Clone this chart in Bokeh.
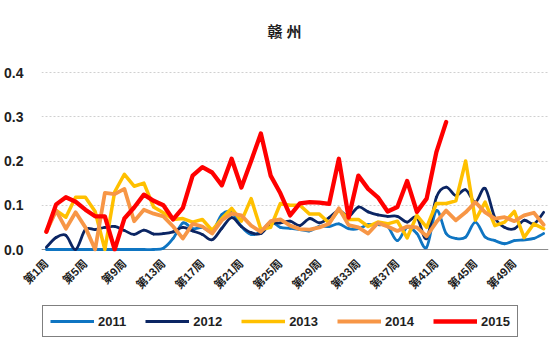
import numpy as np
from bokeh.plotting import figure
from bokeh.layouts import column
from bokeh.models import (FixedTicker, Legend, LegendItem, ColumnDataSource, Label,
                          Range1d, Span)
from bokeh.embed import file_html
from bokeh.resources import INLINE

# ---------------- data ----------------
weeks = list(range(1, 53))
tick_weeks = [1, 5, 9, 13, 17, 21, 25, 29, 33, 37, 41, 45, 49]
tick_labels = ["第%d周" % w for w in tick_weeks]
y_ticks = [0.0, 0.1, 0.2, 0.3, 0.4]
y_tick_labels = ["0.0", "0.1", "0.2", "0.3", "0.4"]

s2011 = [0, 0, 0, 0, 0, 0, 0, 0, 0, 0, 0, 0, 0.003, 0.025, 0.06, 0.047, 0.05, 0.04,
         0.079, 0.084, 0.052, 0.034, 0.04, 0.062, 0.05, 0.048, 0.045, 0.042, 0.052, 0.052,
         0.058, 0.047, 0.047, 0.056, 0.056, 0.052, 0.02, 0.05, 0.036, 0.005, 0.088, 0.036,
         0.025, 0.028, 0.062, 0.028, 0.02, 0.013, 0.02, 0.022, 0.025, 0.036]
s2012 = [0.005, 0.027, 0.032, 0.0, 0.045, 0.045, 0.05, 0.052, 0.043, 0.034, 0.044, 0.035,
         0.036, 0.04, 0.05, 0.042, 0.034, 0.022, 0.048, 0.072, 0.052, 0.038, 0.036, 0.058,
         0.06, 0.064, 0.054, 0.07, 0.06, 0.072, 0.088, 0.075, 0.096, 0.085, 0.078, 0.075,
         0.075, 0.062, 0.073, 0.025, 0.118, 0.141, 0.122, 0.135, 0.107, 0.138, 0.072, 0.05,
         0.047, 0.066, 0.058, 0.084]
s2013 = [0.043, 0.088, 0.073, 0.118, 0.118, 0.086, 0.0, 0.13, 0.17, 0.143, 0.15, 0.096,
         0.083, 0.068, 0.07, 0.062, 0.068, 0.043, 0.07, 0.093, 0.064, 0.115, 0.045, 0.05,
         0.104, 0.1, 0.1, 0.08, 0.08, 0.06, 0.09, 0.068, 0.068, 0.052, 0.062, 0.058, 0.064,
         0.026, 0.077, 0.05, 0.104, 0.104, 0.11, 0.2, 0.066, 0.107, 0.054, 0.062, 0.086, 0.027,
         0.058, 0.047]
s2014 = [0.04, 0.088, 0.047, 0.084, 0.05, 0.0, 0.128, 0.125, 0.137, 0.064, 0.09, 0.081,
         0.075, 0.052, 0.025, 0.058, 0.052, 0.036, 0.066, 0.081, 0.077, 0.054, 0.04, 0.064,
         0.068, 0.054, 0.046, 0.045, 0.05, 0.058, 0.093, 0.055, 0.05, 0.036, 0.06, 0.052,
         0.042, 0.052, 0.05, 0.03, 0.062, 0.088, 0.066, 0.084, 0.107, 0.084, 0.07, 0.073,
         0.064, 0.077, 0.083, 0.056]
s2015 = [0.04, 0.102, 0.118, 0.108, 0.09, 0.075, 0.075, 0.0, 0.07, 0.095, 0.124, 0.11,
         0.1, 0.068, 0.094, 0.167, 0.186, 0.174, 0.145, 0.205, 0.14, 0.2, 0.262, 0.167,
         0.127, 0.077, 0.104, 0.107, 0.106, 0.103, 0.205, 0.072, 0.167, 0.137, 0.118, 0.086,
         0.096, 0.155, 0.085, 0.115, 0.22, 0.288]

series_names = ["2011", "2012", "2013", "2014", "2015"]
title_text = "赣 州"
colors = ["#0F75C2", "#0B2563", "#FFC000", "#F79646", "#FF0000"]
widths = [2.8, 2.8, 3.5, 3.8, 4.3]
FONT = "Liberation Sans, Noto Sans CJK SC"
all_series = [s2011, s2012, s2013, s2014, s2015]

# frame: left 41, right 548, top 20, bottom 251 ; value 0 at y=249, 0.4 at y=72
K = (249 - 72) / 0.4
p = figure(width=549, height=300, output_backend="svg", toolbar_location=None,
           x_range=Range1d(0.5, 52.5),
           y_range=Range1d(-(251 - 249) / K, 0.4 + (72 - 20) / K),
           min_border_left=41, min_border_right=1, min_border_top=20,
           min_border_bottom=49)
p.outline_line_color = None
p.background_fill_color = "white"
p.border_fill_color = "white"

# axes
p.xaxis.ticker = FixedTicker(ticks=tick_weeks)
p.xaxis.major_label_overrides = {w: l for w, l in zip(tick_weeks, tick_labels)}
p.xaxis.major_label_orientation = np.pi / 4
p.xaxis.axis_line_color = None
p.xaxis.major_tick_line_color = None
p.xaxis.minor_tick_line_color = None
p.xaxis.major_label_standoff = 4
p.xaxis.major_label_text_font = FONT
p.xaxis.major_label_text_font_size = "11.5px"
p.xaxis.major_label_text_font_style = "bold"
p.xaxis.major_label_text_color = "#1F1F1F"

p.yaxis.ticker = FixedTicker(ticks=y_ticks)
p.yaxis.major_label_overrides = {t: l for t, l in zip(y_ticks, y_tick_labels)}
p.yaxis.axis_line_color = None
p.yaxis.major_tick_line_color = None
p.yaxis.minor_tick_line_color = None
p.yaxis.major_label_standoff = 12
p.yaxis.major_label_text_font = FONT
p.yaxis.major_label_text_font_size = "14px"
p.yaxis.major_label_text_font_style = "bold"
p.yaxis.major_label_text_color = "#1F1F1F"

p.xgrid.grid_line_color = None
p.ygrid.grid_line_color = "#D0D0D0"
p.ygrid.grid_line_dash = "2 2"
p.ygrid.grid_line_width = 1

p.add_layout(Span(location=0, dimension="width", line_color="#8C8C8C",
                  line_width=1.2, level="underlay"))


def smooth_segments(xs, ys):
    x = np.asarray(xs, float)
    y = np.asarray(ys, float)
    n = len(x)
    xp = np.concatenate([[x[0]], x, [x[-1]]])
    yp = np.concatenate([[y[0]], y, [y[-1]]])
    return dict(
        x0=x[:-1], y0=y[:-1], x1=x[1:], y1=y[1:],
        cx0=x[:-1] + (xp[2:n + 1] - xp[0:n - 1]) / 6.0,
        cy0=y[:-1] + (yp[2:n + 1] - yp[0:n - 1]) / 6.0,
        cx1=x[1:] - (xp[3:n + 2] - xp[1:n]) / 6.0,
        cy1=y[1:] - (yp[3:n + 2] - yp[1:n]) / 6.0,
    )


for i, (name, vals) in enumerate(zip(series_names, all_series)):
    xs = weeks[:len(vals)]
    if i < 2:
        src = ColumnDataSource(smooth_segments(xs, vals))
        p.bezier(x0="x0", y0="y0", x1="x1", y1="y1", cx0="cx0", cy0="cy0",
                 cx1="cx1", cy1="cy1", source=src, line_color=colors[i],
                 line_width=widths[i], line_cap="round")
    else:
        p.line(xs, vals, line_color=colors[i], line_width=widths[i],
               line_join="round", line_cap="round")

# title (inside the frame, above the 0.4 gridline)
p.add_layout(Label(x=243, y=251 - 31, x_units="screen", y_units="screen",
                   text=title_text, text_font=FONT, text_font_size="15px",
                   text_font_style="bold", text_align="center",
                   text_baseline="middle", text_color="#1F1F1F"))

# ---------------- legend strip ----------------
# same series drawn again, but outside this strip's visible y range: only
# their legend swatches show
p2 = figure(width=549, height=39, output_backend="svg", toolbar_location=None,
            x_range=Range1d(0.5, 52.5), y_range=Range1d(1.0, 2.0),
            x_axis_type=None, y_axis_type=None, min_border=0)
p2.outline_line_color = None
p2.grid.visible = False
p2.border_fill_color = "white"
p2.background_fill_color = "white"
leg_renderers = []
for i, (name, vals) in enumerate(zip(series_names, all_series)):
    leg_renderers.append(p2.line(weeks[:len(vals)], vals, line_color=colors[i],
                                 line_width=widths[i]))

legend = Legend(items=[LegendItem(label=n, renderers=[r]) for n, r in zip(series_names, leg_renderers)],
                orientation="horizontal", location=(1, 2))
legend.glyph_width = 44
legend.glyph_height = 16
legend.label_height = 16
legend.label_standoff = 4
legend.spacing = 19
legend.padding = 7
legend.margin = 0
legend.border_line_color = "#000000"
legend.border_line_width = 1
legend.background_fill_color = "white"
legend.label_text_font = FONT
legend.label_text_font_size = "13px"
legend.label_text_font_style = "bold"
legend.label_text_color = "#1F1F1F"
p2.add_layout(legend, "center")

open("out.html", "w").write(file_html(column(p, p2, spacing=0), INLINE))
